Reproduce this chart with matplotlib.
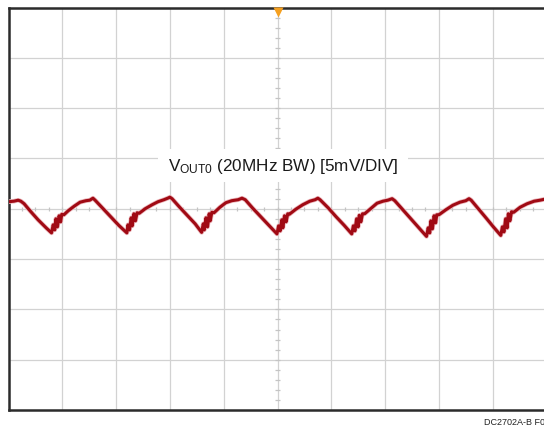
import matplotlib
matplotlib.use("Agg")
import matplotlib.pyplot as plt
import numpy as np
from matplotlib.patches import Rectangle

plt.rcParams['font.family'] = ['Liberation Sans', 'DejaVu Sans']
plt.rcParams['mathtext.fontset'] = 'custom'
plt.rcParams['mathtext.rm'] = 'Liberation Sans'
plt.rcParams['mathtext.it'] = 'Liberation Sans'

# ---- data: time in divisions, VOUT0 ripple in mV (5 mV/DIV) ----
time_div = [
    0.00, 0.10, 0.18, 0.23, 0.29, 0.40, 0.55, 0.70, 0.80,
    0.83, 0.86, 0.88, 0.91, 0.94, 0.97, 0.99, 1.03,
    1.11, 1.22, 1.33, 1.44, 1.51, 1.57, 1.61,
    1.76, 1.91, 2.05, 2.20,
    2.22, 2.25, 2.28, 2.30, 2.33, 2.36, 2.39, 2.43,
    2.54, 2.67, 2.78, 2.89, 2.96, 3.00, 3.04,
    3.19, 3.34, 3.47, 3.59,
    3.62, 3.64, 3.67, 3.70, 3.73, 3.75, 3.78, 3.82,
    3.93, 4.04, 4.15, 4.27, 4.34, 4.40,
    4.54, 4.69, 4.84, 4.99,
    5.02, 5.05, 5.08, 5.10, 5.13, 5.16, 5.19, 5.22,
    5.34, 5.47, 5.60, 5.70, 5.75, 5.79,
    5.94, 6.09, 6.24, 6.38,
    6.41, 6.44, 6.47, 6.50, 6.52, 6.55, 6.58, 6.62,
    6.74, 6.85, 6.96, 7.05, 7.13, 7.18,
    7.33, 7.48, 7.63, 7.77,
    7.80, 7.83, 7.85, 7.88, 7.91, 7.94, 7.96, 8.00,
    8.13, 8.26, 8.39, 8.50, 8.56, 8.60,
    8.75, 8.89, 9.02, 9.15,
    9.18, 9.21, 9.24, 9.27, 9.29, 9.32, 9.35, 9.39,
    9.51, 9.64, 9.77, 9.88, 10.01,
]
vout_mv = [
    0.70, 0.75, 0.85, 0.75, 0.50, -0.20, -1.10, -1.90, -2.40,
    -1.60, -2.10, -1.00, -1.80, -0.70, -1.30, -0.55, -0.60,
    -0.20, 0.25, 0.65, 0.80, 0.85, 1.05, 0.85,
    0.00, -0.85, -1.65, -2.40,
    -1.60, -2.10, -0.90, -1.70, -0.50, -1.20, -0.40, -0.45,
    0.00, 0.40, 0.70, 0.90, 1.05, 1.15, 1.00,
    0.10, -0.75, -1.50, -2.35,
    -1.50, -2.10, -0.90, -1.80, -0.50, -1.20, -0.35, -0.40,
    0.15, 0.60, 0.80, 0.90, 1.05, 0.90,
    0.05, -0.80, -1.65, -2.50,
    -1.70, -2.20, -1.10, -1.90, -0.70, -1.30, -0.50, -0.55,
    -0.05, 0.40, 0.75, 0.90, 1.05, 0.90,
    0.10, -0.80, -1.65, -2.50,
    -1.70, -2.20, -1.00, -1.80, -0.65, -1.30, -0.50, -0.50,
    0.05, 0.55, 0.75, 0.85, 1.00, 0.80,
    -0.10, -1.00, -1.90, -2.75,
    -1.90, -2.40, -1.20, -2.00, -0.70, -1.40, -0.60, -0.60,
    -0.10, 0.35, 0.65, 0.80, 1.00, 0.85,
    -0.10, -1.00, -1.85, -2.65,
    -1.80, -2.30, -1.00, -1.90, -0.50, -1.20, -0.30, -0.35,
    0.15, 0.50, 0.75, 0.85, 1.00,
]
x_divs = 10
volts_per_div = 5      # mV/DIV
y_divs = 8
trigger_time = 5.0
label_text = r'V$_{\mathrm{OUT0}}$ (20MHz BW) [5mV/DIV]'
footer_text = 'DC2702A-B F05'

# ---- figure ----
fig = plt.figure(figsize=(5.44, 4.31), dpi=100)
ax = fig.add_axes([8.5 / 544, 20 / 431, 538 / 544, 402.5 / 431])
ymax = volts_per_div * y_divs / 2
ax.set_xlim(0, x_divs)
ax.set_ylim(-ymax, ymax)
ax.set_xticks(np.arange(0, x_divs + 1, 1))
ax.set_yticks(np.arange(-ymax, ymax + 0.1, volts_per_div))
ax.tick_params(length=0, labelbottom=False, labelleft=False)
ax.grid(True, color='#d2d2d2', lw=0.9)
ax.set_axisbelow(True)
for s in ax.spines.values():
    s.set_color('#2b2b2b')
    s.set_linewidth(1.8)

# center-line minor ticks
hx = np.arange(0, x_divs + 0.001, 0.25)
ax.vlines(hx, -0.18, 0.18, color='#c4c4c4', lw=0.9, zorder=1)
vy = np.arange(-ymax, ymax + 0.001, volts_per_div / 5)
ax.hlines(vy, trigger_time - 0.04, trigger_time + 0.04, color='#c4c4c4', lw=0.9, zorder=1)

# label box
ax.add_patch(Rectangle((0.278, 0.566), 0.465, 0.082, transform=ax.transAxes,
                       facecolor='white', edgecolor='none', zorder=2))
ax.text(2.965, 3.88, label_text, fontsize=12.3, ha='left', va='baseline',
        color='#1a1a1a', zorder=3)

# trace
ax.plot(time_div, vout_mv, color='#ecb8bd', lw=3.3, zorder=4, solid_joinstyle='round')
ax.plot(time_div, vout_mv, color='#a00a14', lw=2.2, zorder=5, solid_joinstyle='round')

# trigger marker
ax.plot([trigger_time], [ymax - 0.4], marker='v', color='#f5a020', ms=7,
        mec='none', clip_on=False, zorder=6)

fig.text(484 / 544, (431 - 423) / 431, footer_text, fontsize=6.5,
         ha='left', va='center', color='#222222')

fig.savefig('out.png', dpi=100)
